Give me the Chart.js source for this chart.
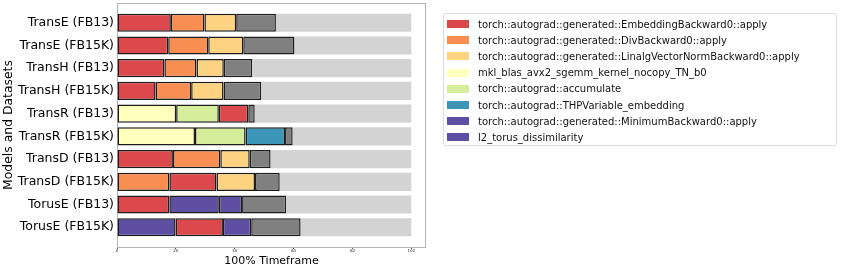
<!DOCTYPE html>
<html>
<head>
<meta charset="utf-8">
<script src="https://cdn.jsdelivr.net/npm/chart.js@4/dist/chart.umd.min.js"></script>
<style>
    body { margin: 0; background: #fff; font-family: "DejaVu Sans", sans-serif; }
    #wrap { position: relative; width: 841px; height: 270px; }
    #chart { position: absolute; left: 0; top: 0; }
    #legend {
        position: absolute; left: 443px; top: 13px; width: 394px; height: 133px;
        border: 1px solid #dcdcdc; border-radius: 3px; box-sizing: border-box;
        padding-top: 2px;
    }
    .item { display: flex; align-items: center; height: 16.2px; font-size: 10px; color: #111; white-space: nowrap; }
    .sw { width: 22px; height: 8px; margin: 0 9px 0 3px; }
</style>
</head>
<body>
<div id="wrap">
    <canvas id="chart" width="841" height="270"></canvas>
    <div id="legend"></div>
</div>
<script>
// --- Data ---
const models = [
    "TransE (FB13)", "TransE (FB15K)", "TransH (FB13)", "TransH (FB15K)",
    "TransR (FB13)", "TransR (FB15K)", "TransD (FB13)", "TransD (FB15K)",
    "TorusE (FB13)", "TorusE (FB15K)",
];
const funcNames = [
    "torch::autograd::generated::EmbeddingBackward0::apply",
    "torch::autograd::generated::DivBackward0::apply",
    "torch::autograd::generated::LinalgVectorNormBackward0::apply",
    "mkl_blas_avx2_sgemm_kernel_nocopy_TN_b0",
    "torch::autograd::accumulate",
    "torch::autograd::THPVariable_embedding",
    "torch::autograd::generated::MinimumBackward0::apply",
    "l2_torus_dissimilarity",
];
const funcColors = ["#dc494c", "#f98e52", "#fdd280", "#ffffbe", "#d6ee9b", "#3d95b8", "#5e4fa2", "#5e4fa2"];

// top three functions per model (index into funcNames) and their share of the timeframe
const slotFunc1 = [0, 0, 0, 0, 3, 3, 0, 1, 0, 7];
const slotTime1 = [18.3, 17.4, 16.1, 13.1, 20.1, 26.5, 19.0, 17.8, 17.8, 19.9];
const slotFunc2 = [1, 1, 1, 1, 4, 4, 1, 0, 7, 0];
const slotTime2 = [11.4, 13.6, 10.9, 12.1, 14.5, 17.2, 16.1, 16.0, 16.8, 16.1];
const slotFunc3 = [2, 2, 2, 2, 0, 5, 2, 2, 6, 6];
const slotTime3 = [10.8, 11.9, 9.3, 11.0, 10.0, 13.4, 10.0, 13.1, 7.9, 9.6];
const otherTime = [13.5, 17.4, 9.6, 12.8, 2.2, 2.6, 7.1, 8.4, 15.0, 16.8];
const idleTime  = [46.0, 39.7, 54.1, 51.0, 53.2, 40.3, 47.8, 44.7, 42.5, 37.6];
const xTicks = [0, 20, 40, 60, 80, 100];

// --- Helpers ---
const EDGE = "#1c1c1c";
const pts = (vals) => vals.map((v, i) => ({ x: v, y: i }));

function slotDataset(funcs, times) {
    return {
        data: pts(times),
        backgroundColor: funcs.map(f => funcColors[f]),
        borderColor: EDGE,
        borderWidth: 1.5,
        borderSkipped: false,
    };
}

// light grey box round the plot, under the bars
const frame = {
    id: "frame",
    beforeDatasetsDraw(chart) {
        const a = chart.chartArea;
        const c = chart.ctx;
        c.save();
        c.strokeStyle = "#b4b4b4";
        c.lineWidth = 1;
        c.strokeRect(a.left + 0.5, a.top + 0.5, a.right - a.left - 1, a.bottom - a.top);
        c.restore();
    },
};

// --- Chart ---
const ctx = document.getElementById("chart").getContext("2d");
new Chart(ctx, {
    type: "bar",
    data: {
        datasets: [
            slotDataset(slotFunc1, slotTime1),
            slotDataset(slotFunc2, slotTime2),
            slotDataset(slotFunc3, slotTime3),
            { data: pts(otherTime), backgroundColor: "#808080", borderColor: EDGE, borderWidth: 1.5, borderSkipped: false },
            { data: pts(idleTime), backgroundColor: "#d3d3d3", borderWidth: 0 },
        ],
    },
    options: {
        indexAxis: "y",
        responsive: false,
        animation: false,
        barPercentage: 0.8,
        categoryPercentage: 1.0,
        layout: { padding: { left: 0, right: 415, top: 3, bottom: 0 } },
        scales: {
            x: {
                type: "linear",
                stacked: true,
                min: 0,
                max: 105,
                afterBuildTicks: (s) => { s.ticks = xTicks.map(v => ({ value: v })); },
                afterFit: (s) => { s.height = 23; s.paddingLeft = 0; s.paddingRight = 0; },
                border: { display: false },
                grid: { drawOnChartArea: false, tickLength: 2, color: "#555" },
                ticks: { font: { family: "DejaVu Sans", size: 4 }, color: "#333", padding: 0, maxRotation: 0 },
                title: {
                    display: true,
                    text: "100% Timeframe",
                    font: { family: "DejaVu Sans", size: 11, lineHeight: 1.2 },
                    color: "#000",
                    padding: { top: 0, bottom: 2 },
                },
            },
            y: {
                type: "linear",
                stacked: true,
                reverse: true,
                offset: false,
                min: -0.87,
                max: 9.87,
                afterFit: (s) => { s.width = 117; s.paddingTop = 0; s.paddingBottom = 0; },
                border: { display: false },
                grid: { display: false, drawTicks: false },
                ticks: {
                    stepSize: 1,
                    includeBounds: false,
                    autoSkip: false,
                    padding: 3,
                    font: { family: "DejaVu Sans", size: 12.5 },
                    color: "#000",
                    callback: (v) => models[v] ?? "",
                },
                title: {
                    display: true,
                    text: "Models and Datasets",
                    font: { family: "DejaVu Sans", size: 12.4, lineHeight: 1.2 },
                    color: "#000",
                    padding: { top: 1, bottom: 0 },
                },
            },
        },
        plugins: {
            legend: { display: false },
            tooltip: { enabled: false },
        },
    },
    plugins: [frame],
});

// --- Legend ---
document.getElementById("legend").innerHTML = funcNames.map((n, i) => `
    <div class="item"><span class="sw" style="background:${funcColors[i]}"></span>${n}</div>
`).join("");
</script>
</body>
</html>
